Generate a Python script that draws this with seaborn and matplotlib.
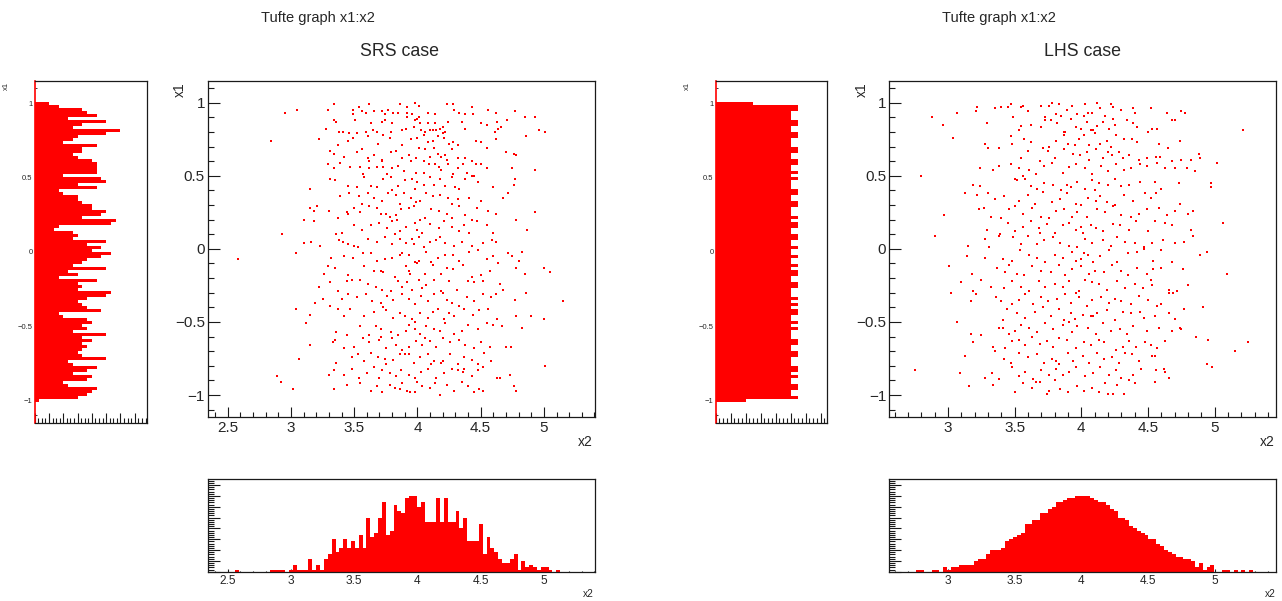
import matplotlib
matplotlib.use("Agg")
import numpy as np
import pandas as pd
import matplotlib.pyplot as plt
import seaborn as sns
from matplotlib.ticker import MultipleLocator, NullFormatter

# ---------------- data ----------------
# scatter points (x2, x1), SRS case
srs_points = [
 (2.95,0.93),(3.05,0.95),(3.29,0.95),(3.34,0.99),(3.49,0.95),(3.49,0.92),(3.54,0.97),(3.56,0.94),(3.59,0.93),(3.62,0.99),
 (3.66,0.94),(3.72,0.94),(3.74,0.92),(3.77,0.95),(3.81,0.93),(3.85,0.93),(3.86,0.99),(3.92,0.97),(3.92,0.93),(3.96,0.92),
 (3.98,1.00),(4.01,0.98),(4.08,0.93),(4.14,0.92),(4.23,0.99),(4.28,0.99),(4.29,0.95),(4.33,0.93),(4.38,0.92),(4.43,0.97),
 (4.44,0.92),(4.56,0.95),(4.62,0.93),(4.77,0.94),(4.85,0.90),(4.93,0.90),(3.34,0.88),(3.92,0.90),(4.01,0.90),
 (3.36,0.87),(3.41,0.80),(3.51,0.88),(3.59,0.80),(3.63,0.86),(3.65,0.81),(3.68,0.80),(3.72,0.87),(3.74,0.88),(3.79,0.80),
 (3.80,0.86),(3.88,0.81),(3.91,0.82),(3.98,0.88),(4.00,0.89),(4.02,0.86),(4.03,0.81),(4.06,0.80),(4.08,0.86),(4.10,0.81),
 (4.12,0.81),(4.14,0.86),(4.15,0.81),(4.18,0.82),(4.20,0.83),(4.22,0.80),(4.35,0.87),(4.38,0.82),(4.50,0.86),(4.55,0.85),
 (4.63,0.87),(4.64,0.82),(4.61,0.80),(4.66,0.83),(4.71,0.88),(4.96,0.81),(5.01,0.80),(3.28,0.82),(3.97,0.83),(4.24,0.87),
 (2.84,0.74),(3.22,0.75),(3.37,0.71),(3.45,0.74),(3.49,0.76),(3.52,0.79),(3.61,0.77),(3.69,0.72),(3.73,0.78),(3.78,0.76),
 (3.88,0.71),(3.95,0.75),(4.00,0.76),(4.05,0.78),(4.08,0.73),(4.12,0.74),(4.16,0.77),(4.21,0.76),(4.25,0.72),(4.28,0.73),
 (4.32,0.71),(4.46,0.74),(4.50,0.73),(4.62,0.75),(4.86,0.77),(4.20,0.79),(3.46,0.79),(3.38,0.80),
 (3.31,0.67),(3.34,0.65),(3.42,0.63),(3.52,0.66),(3.56,0.68),(3.61,0.62),(3.62,0.60),(3.66,0.64),(3.72,0.61),(3.72,0.60),
 (3.79,0.66),(3.83,0.67),(3.88,0.62),(3.93,0.64),(3.99,0.62),(4.01,0.69),(4.06,0.68),(4.10,0.63),(4.13,0.69),(4.16,0.65),
 (4.22,0.64),(4.23,0.61),(4.27,0.68),(4.32,0.62),(4.38,0.62),(4.43,0.60),(4.55,0.69),(4.70,0.66),(4.76,0.65),(4.78,0.64),
 (3.95,0.60),(4.05,0.60),(4.19,0.63),
 (3.29,0.58),(3.34,0.55),(3.39,0.59),(3.47,0.56),(3.55,0.56),(3.62,0.55),(3.68,0.56),(3.73,0.56),(3.80,0.55),(3.85,0.57),
 (3.89,0.53),(3.99,0.52),(4.05,0.52),(4.09,0.58),(4.14,0.58),(4.17,0.56),(4.24,0.58),(4.28,0.51),(4.32,0.55),(4.36,0.58),
 (4.39,0.52),(4.46,0.58),(4.50,0.58),(4.55,0.55),(4.75,0.55),(4.93,0.54),(3.57,0.51),(3.76,0.51),(4.43,0.50),(4.19,0.54),
 (3.31,0.48),(3.35,0.47),(3.45,0.43),(3.52,0.42),(3.58,0.49),(3.63,0.43),(3.68,0.42),(3.73,0.48),(3.79,0.49),(3.85,0.43),
 (3.90,0.47),(3.96,0.48),(4.00,0.46),(4.05,0.44),(4.10,0.49),(4.13,0.44),(4.18,0.48),(4.22,0.43),(4.27,0.49),(4.30,0.42),
 (4.33,0.41),(4.38,0.48),(4.45,0.50),(4.48,0.46),(4.60,0.42),(4.77,0.48),(4.76,0.44),(3.15,0.41),(3.80,0.40),(3.98,0.41),
 (3.39,0.36),(3.46,0.38),(3.54,0.36),(3.61,0.38),(3.66,0.35),(3.72,0.33),(3.77,0.38),(3.83,0.37),(3.89,0.38),(3.95,0.35),
 (3.99,0.32),(4.02,0.33),(4.07,0.38),(4.12,0.36),(4.18,0.37),(4.24,0.35),(4.32,0.34),(4.41,0.35),(4.50,0.33),(4.68,0.35),
 (4.72,0.38),(3.56,0.31),(3.86,0.31),(4.27,0.31),
 (3.15,0.28),(3.18,0.26),(3.21,0.29),(3.30,0.26),(3.37,0.21),(3.45,0.24),(3.50,0.28),(3.55,0.25),(3.62,0.29),(3.68,0.28),
 (3.71,0.24),(3.75,0.24),(3.78,0.22),(3.83,0.23),(3.87,0.27),(3.93,0.28),(3.97,0.29),(4.02,0.20),(4.06,0.21),(4.11,0.27),
 (4.17,0.26),(4.23,0.24),(4.27,0.21),(4.33,0.29),(4.38,0.23),(4.43,0.20),(4.47,0.28),(4.56,0.26),(4.62,0.24),(4.78,0.20),
 (4.93,0.25),(3.10,0.20),(3.84,0.20),(3.44,0.25),
 (3.18,0.19),(3.36,0.10),(3.40,0.11),(3.50,0.16),(3.56,0.13),(3.63,0.16),(3.70,0.18),(3.76,0.14),(3.80,0.19),(3.86,0.12),
 (3.91,0.15),(3.98,0.18),(4.00,0.13),(4.04,0.11),(4.10,0.17),(4.17,0.14),(4.21,0.19),(4.27,0.15),(4.33,0.12),(4.37,0.16),
 (4.41,0.11),(4.47,0.19),(4.55,0.16),(4.60,0.11),(4.87,0.13),(2.93,0.10),(3.82,0.10),
 (3.10,0.04),(3.23,0.02),(3.16,0.05),(3.41,0.05),(3.45,0.03),(3.50,0.02),(3.53,0.01),(3.61,0.07),(3.68,0.05),(3.74,0.08),
 (3.80,0.03),(3.86,0.07),(3.91,0.04),(3.97,0.03),(4.01,0.08),(4.05,0.01),(4.10,0.05),(4.15,0.06),(4.18,0.08),(4.22,0.04),
 (4.29,0.02),(4.35,0.05),(4.43,0.02),(4.52,0.04),(4.59,0.06),(4.62,0.05),(3.38,0.06),(3.96,0.07),
 (2.58,-0.07),(3.04,-0.03),(3.32,-0.06),(3.42,-0.05),(3.49,-0.06),(3.57,-0.03),(3.63,-0.03),(3.68,-0.08),(3.74,-0.07),(3.80,-0.06),
 (3.86,-0.04),(3.93,-0.04),(3.98,-0.09),(4.01,-0.08),(4.07,-0.02),(4.11,-0.09),(4.16,-0.06),(4.22,-0.04),(4.28,-0.04),(4.33,-0.08),
 (4.41,-0.02),(4.48,-0.01),(4.55,-0.07),(4.60,-0.05),(4.72,-0.03),(4.75,-0.05),(4.80,-0.08),(4.83,-0.02),(3.88,-0.03),
 (3.26,-0.17),(3.29,-0.12),(3.35,-0.13),(3.45,-0.18),(3.58,-0.12),(3.66,-0.15),(3.73,-0.16),(3.82,-0.19),(3.91,-0.12),(3.93,-0.15),
 (3.94,-0.17),(4.00,-0.10),(4.06,-0.17),(4.12,-0.11),(4.19,-0.17),(4.23,-0.13),(4.28,-0.14),(4.36,-0.11),(4.43,-0.19),(4.50,-0.18),
 (4.57,-0.15),(4.64,-0.10),(4.78,-0.13),(4.85,-0.17),(5.00,-0.13),(5.05,-0.16),(3.71,-0.15),
 (3.22,-0.26),(3.31,-0.23),(3.37,-0.29),(3.44,-0.22),(3.48,-0.21),(3.55,-0.21),(3.61,-0.24),(3.67,-0.26),(3.72,-0.28),(3.79,-0.29),
 (3.85,-0.22),(3.92,-0.23),(3.96,-0.28),(4.01,-0.21),(4.07,-0.25),(4.13,-0.21),(4.19,-0.29),(4.25,-0.22),(4.31,-0.28),(4.40,-0.22),
 (4.45,-0.23),(4.52,-0.22),(4.65,-0.24),(4.68,-0.28),(4.04,-0.27),(3.88,-0.26),
 (3.19,-0.37),(3.25,-0.34),(3.31,-0.39),(3.40,-0.34),(3.45,-0.31),(3.52,-0.33),(3.59,-0.31),(3.64,-0.36),(3.71,-0.37),(3.76,-0.32),
 (3.81,-0.35),(3.88,-0.31),(3.93,-0.34),(3.98,-0.38),(4.03,-0.32),(4.08,-0.36),(4.13,-0.31),(4.20,-0.30),(4.23,-0.35),(4.27,-0.37),
 (4.33,-0.39),(4.39,-0.33),(4.45,-0.36),(4.52,-0.31),(4.58,-0.33),(4.62,-0.31),(4.77,-0.35),(4.86,-0.30),(5.15,-0.36),
 (3.04,-0.41),(3.15,-0.45),(3.37,-0.41),(3.42,-0.46),(3.47,-0.41),(3.58,-0.46),(3.66,-0.43),(3.73,-0.40),(3.75,-0.42),(3.81,-0.47),
 (3.86,-0.44),(3.90,-0.46),(3.96,-0.48),(4.02,-0.44),(4.08,-0.47),(4.12,-0.43),(4.16,-0.41),(4.21,-0.48),(4.25,-0.44),(4.29,-0.46),
 (4.37,-0.41),(4.44,-0.45),(4.49,-0.42),(4.56,-0.41),(4.63,-0.48),(4.78,-0.46),(4.90,-0.46),(5.00,-0.48),
 (3.12,-0.51),(3.36,-0.57),(3.44,-0.59),(3.55,-0.53),(3.62,-0.59),(3.67,-0.53),(3.71,-0.55),(3.79,-0.57),(3.85,-0.59),(3.91,-0.56),
 (3.93,-0.52),(3.98,-0.55),(4.02,-0.58),(4.07,-0.53),(4.13,-0.55),(4.18,-0.56),(4.22,-0.51),(4.29,-0.58),(4.35,-0.56),(4.40,-0.52),
 (4.48,-0.55),(4.55,-0.51),(4.60,-0.52),(4.67,-0.53),(4.83,-0.54),(3.98,-0.50),
 (3.15,-0.66),(3.33,-0.64),(3.35,-0.62),(3.42,-0.68),(3.50,-0.67),(3.57,-0.61),(3.62,-0.64),(3.70,-0.62),(3.75,-0.68),(3.80,-0.61),
 (3.83,-0.66),(3.88,-0.69),(3.93,-0.67),(3.99,-0.63),(4.04,-0.66),(4.10,-0.63),(4.15,-0.67),(4.20,-0.61),(4.26,-0.64),(4.33,-0.62),
 (4.38,-0.66),(4.45,-0.68),(4.50,-0.64),(4.57,-0.67),(4.70,-0.67),(4.74,-0.67),(3.71,-0.60),(4.06,-0.61),
 (3.06,-0.75),(3.36,-0.78),(3.48,-0.74),(3.53,-0.72),(3.58,-0.77),(3.63,-0.71),(3.69,-0.74),(3.75,-0.79),(3.81,-0.76),(3.86,-0.72),
 (3.90,-0.72),(3.93,-0.72),(3.97,-0.78),(4.02,-0.74),(4.08,-0.72),(4.13,-0.77),(4.19,-0.78),(4.20,-0.77),(4.26,-0.72),(4.32,-0.79),
 (4.37,-0.74),(4.43,-0.76),(4.48,-0.79),(4.53,-0.71),(4.58,-0.77),(3.74,-0.75),(4.11,-0.79),
 (2.89,-0.87),(3.30,-0.86),(3.34,-0.83),(3.42,-0.86),(3.48,-0.82),(3.54,-0.88),(3.60,-0.85),(3.66,-0.81),(3.72,-0.83),(3.78,-0.85),
 (3.83,-0.87),(3.87,-0.83),(3.93,-0.86),(3.98,-0.88),(4.03,-0.84),(4.08,-0.82),(4.15,-0.88),(4.21,-0.85),(4.27,-0.82),(4.32,-0.83),
 (4.37,-0.82),(4.43,-0.87),(4.48,-0.83),(4.52,-0.81),(4.63,-0.88),(4.65,-0.88),(4.73,-0.86),(5.01,-0.80),(3.70,-0.88),(4.36,-0.84),
 (2.92,-0.91),(3.02,-0.96),(3.34,-0.96),(3.44,-0.93),(3.55,-0.92),(3.63,-0.97),(3.72,-0.98),(3.78,-0.93),(3.82,-0.95),(3.86,-0.96),
 (3.88,-0.92),(3.92,-0.97),(3.94,-0.98),(3.98,-0.98),(4.04,-0.94),(4.10,-0.95),(4.14,-0.92),(4.18,-1.00),(4.23,-0.93),(4.29,-0.97),
 (4.35,-0.91),(4.40,-0.94),(4.45,-0.98),(4.49,-0.96),(4.52,-0.97),(4.76,-0.94),(4.78,-0.97),(4.00,-0.91),(3.68,-0.94),
]

# scatter points (x2, x1), LHS case
lhs_points = [
 (2.88,0.90),(3.07,0.93),(3.21,0.94),(3.22,0.97),(3.35,0.96),(3.40,0.97),(3.45,0.97),(3.47,0.99),(3.49,0.90),(3.55,0.97),
 (3.56,0.98),(3.60,0.94),(3.70,0.98),(3.73,0.90),(3.76,0.98),(3.78,1.00),(3.83,0.99),(3.85,0.91),(3.89,0.95),(3.93,0.98),
 (3.97,0.92),(4.02,0.91),(4.03,0.99),(4.08,0.93),(4.12,1.00),(4.14,0.96),(4.18,0.91),(4.22,0.99),(4.24,0.97),(4.24,0.89),
 (4.30,0.95),(4.39,0.96),(4.40,0.93),(4.52,0.96),(4.64,0.93),(4.75,0.94),(4.78,0.93),(3.81,0.92),(4.05,0.93),
 (2.96,0.85),(3.29,0.86),(3.55,0.84),(3.62,0.85),(3.70,0.83),(3.73,0.88),(3.77,0.88),(3.82,0.86),(3.87,0.80),(3.92,0.89),
 (3.96,0.83),(4.00,0.82),(4.04,0.87),(4.09,0.81),(4.12,0.84),(4.16,0.87),(4.21,0.82),(4.25,0.85),(4.34,0.88),(4.39,0.86),
 (4.42,0.83),(4.50,0.80),(4.53,0.82),(4.57,0.82),(4.68,0.88),(4.70,0.88),(5.21,0.81),(3.53,0.81),(3.88,0.80),(4.07,0.81),
 (3.04,0.76),(3.28,0.72),(3.30,0.69),(3.38,0.69),(3.47,0.77),(3.48,0.72),(3.57,0.75),(3.62,0.73),(3.71,0.69),(3.76,0.70),
 (3.81,0.74),(3.87,0.78),(3.90,0.72),(3.95,0.71),(4.02,0.78),(4.06,0.71),(4.10,0.79),(4.14,0.72),(4.19,0.74),(4.26,0.78),
 (4.32,0.75),(4.38,0.75),(4.42,0.73),(4.58,0.72),(4.74,0.74),(4.65,0.69),(3.98,0.75),(4.22,0.70),
 (3.55,0.62),(3.69,0.60),(3.75,0.67),(3.80,0.62),(3.87,0.68),(3.94,0.65),(3.99,0.64),(4.04,0.66),(4.11,0.68),(4.16,0.62),
 (4.20,0.66),(4.23,0.64),(4.31,0.62),(4.36,0.64),(4.43,0.61),(4.49,0.62),(4.56,0.63),(4.59,0.63),(4.68,0.60),(4.75,0.61),
 (4.82,0.61),(4.88,0.65),(4.89,0.62),(3.60,0.67),(4.06,0.61),(4.28,0.66),
 (3.24,0.55),(3.34,0.54),(3.38,0.57),(3.47,0.58),(3.53,0.55),(3.61,0.54),(3.66,0.51),(3.72,0.57),(3.78,0.59),(3.86,0.52),
 (3.91,0.56),(3.96,0.58),(4.03,0.55),(4.08,0.51),(4.15,0.57),(4.20,0.53),(4.26,0.58),(4.32,0.54),(4.37,0.55),(4.44,0.58),
 (4.49,0.57),(4.63,0.55),(4.70,0.55),(4.79,0.55),(4.85,0.53),(5.02,0.59),(4.57,0.59),(3.56,0.50),
 (2.80,0.50),(3.19,0.44),(3.24,0.43),(3.52,0.47),(3.58,0.48),(3.62,0.43),(3.67,0.41),(3.72,0.45),(3.79,0.44),(3.85,0.40),
 (3.89,0.44),(3.92,0.42),(3.97,0.46),(4.03,0.41),(4.08,0.47),(4.13,0.45),(4.20,0.44),(4.25,0.48),(4.30,0.43),(4.36,0.44),
 (4.44,0.46),(4.55,0.46),(4.60,0.41),(4.73,0.45),(4.97,0.45),(4.97,0.42),(3.50,0.48),(4.10,0.40),
 (3.13,0.38),(3.22,0.37),(3.30,0.38),(3.35,0.34),(3.42,0.36),(3.53,0.33),(3.60,0.37),(3.65,0.31),(3.71,0.39),(3.78,0.32),
 (3.84,0.34),(3.89,0.38),(3.96,0.31),(4.05,0.35),(4.11,0.33),(4.14,0.36),(4.19,0.32),(4.25,0.30),(4.32,0.37),(4.39,0.33),
 (4.48,0.38),(4.56,0.38),(4.74,0.31),(4.52,0.35),(4.00,0.30),
 (2.97,0.23),(3.23,0.27),(3.27,0.28),(3.40,0.21),(3.46,0.27),(3.50,0.29),(3.56,0.24),(3.63,0.28),(3.70,0.22),(3.76,0.21),
 (3.81,0.26),(3.87,0.27),(3.93,0.22),(3.97,0.25),(4.04,0.22),(4.12,0.27),(4.18,0.25),(4.24,0.29),(4.30,0.23),(4.37,0.22),
 (4.43,0.24),(4.49,0.27),(4.58,0.28),(4.64,0.23),(4.70,0.26),(4.84,0.26),(4.80,0.24),(3.32,0.22),
 (3.29,0.13),(3.39,0.10),(3.45,0.18),(3.50,0.12),(3.56,0.15),(3.62,0.19),(3.68,0.14),(3.74,0.17),(3.80,0.11),(3.86,0.16),
 (3.91,0.18),(3.96,0.13),(4.01,0.11),(4.07,0.16),(4.11,0.14),(4.16,0.12),(4.24,0.17),(4.29,0.16),(4.36,0.13),(4.41,0.19),
 (4.50,0.12),(4.55,0.19),(4.63,0.18),(4.68,0.16),(4.82,0.13),(5.06,0.18),(4.00,0.15),(3.69,0.11),
 (2.90,0.09),(3.15,0.02),(3.31,0.01),(3.38,0.09),(3.49,0.08),(3.55,0.03),(3.60,0.09),(3.67,0.03),(3.72,0.06),(3.79,0.08),
 (3.84,0.04),(3.91,0.02),(3.97,0.01),(4.03,0.07),(4.08,0.04),(4.16,0.06),(4.22,0.02),(4.27,0.08),(4.33,0.05),(4.40,0.04),
 (4.47,0.01),(4.53,0.04),(4.61,0.06),(4.77,0.05),(4.84,0.09),(4.70,0.04),(3.28,0.07),
 (3.01,-0.12),(3.14,-0.05),(3.28,-0.06),(3.41,-0.07),(3.48,-0.08),(3.54,-0.01),(3.61,-0.04),(3.67,-0.06),(3.73,-0.09),(3.80,-0.04),
 (3.86,-0.06),(3.93,-0.02),(4.00,-0.07),(4.02,-0.03),(4.05,-0.04),(4.09,-0.09),(4.14,-0.05),(4.21,-0.01),(4.27,-0.09),(4.35,-0.03),
 (4.42,-0.02),(4.47,0.00),(4.54,-0.08),(4.60,-0.01),(4.68,-0.09),(4.89,-0.04),(4.94,-0.02),(3.96,-0.08),
 (3.18,-0.17),(3.37,-0.13),(3.43,-0.16),(3.52,-0.17),(3.57,-0.18),(3.63,-0.12),(3.70,-0.15),(3.77,-0.16),(3.83,-0.11),(3.88,-0.18),
 (3.93,-0.14),(4.00,-0.12),(4.06,-0.17),(4.10,-0.15),(4.17,-0.16),(4.23,-0.11),(4.30,-0.15),(4.35,-0.18),(4.42,-0.13),(4.49,-0.17),
 (4.54,-0.14),(4.60,-0.13),(4.76,-0.14),(5.09,-0.17),(3.46,-0.11),
 (3.02,-0.30),(3.10,-0.23),(3.19,-0.29),(3.25,-0.21),(3.32,-0.26),(3.42,-0.27),(3.48,-0.22),(3.55,-0.26),(3.61,-0.29),(3.68,-0.22),
 (3.73,-0.26),(3.80,-0.24),(3.86,-0.26),(3.91,-0.22),(3.98,-0.29),(4.03,-0.21),(4.08,-0.23),(4.13,-0.24),(4.19,-0.28),(4.27,-0.22),
 (4.33,-0.27),(4.40,-0.24),(4.46,-0.27),(4.53,-0.25),(4.66,-0.28),(4.72,-0.29),(4.80,-0.25),(4.52,-0.21),
 (3.17,-0.36),(3.21,-0.31),(3.36,-0.33),(3.40,-0.36),(3.48,-0.38),(3.53,-0.35),(3.58,-0.31),(3.64,-0.38),(3.70,-0.33),(3.75,-0.36),
 (3.82,-0.34),(3.88,-0.31),(3.92,-0.37),(3.98,-0.33),(4.04,-0.39),(4.08,-0.35),(4.15,-0.33),(4.21,-0.37),(4.25,-0.34),(4.30,-0.36),
 (4.37,-0.38),(4.43,-0.32),(4.50,-0.35),(4.57,-0.39),(4.66,-0.30),(4.69,-0.30),(4.60,-0.38),(3.96,-0.30),
 (3.07,-0.50),(3.41,-0.49),(3.44,-0.41),(3.52,-0.44),(3.58,-0.47),(3.65,-0.43),(3.71,-0.40),(3.77,-0.46),(3.83,-0.41),(3.87,-0.49),
 (3.92,-0.44),(3.95,-0.48),(4.01,-0.45),(4.07,-0.46),(4.12,-0.44),(4.19,-0.42),(4.25,-0.49),(4.31,-0.43),(4.37,-0.44),(4.44,-0.43),
 (4.47,-0.47),(4.55,-0.46),(4.70,-0.48),(4.77,-0.41),(4.91,-0.40),(4.66,-0.44),(4.09,-0.46),
 (3.17,-0.58),(3.25,-0.59),(3.38,-0.54),(3.41,-0.54),(3.46,-0.58),(3.50,-0.56),(3.55,-0.52),(3.61,-0.54),(3.67,-0.57),(3.73,-0.51),
 (3.79,-0.55),(3.86,-0.52),(3.93,-0.57),(3.97,-0.53),(4.05,-0.54),(4.11,-0.58),(4.16,-0.51),(4.22,-0.56),(4.29,-0.55),(4.34,-0.58),
 (4.39,-0.53),(4.49,-0.56),(4.58,-0.54),(4.68,-0.56),(4.74,-0.54),(4.75,-0.55),(3.91,-0.50),
 (3.19,-0.64),(3.34,-0.67),(3.43,-0.68),(3.48,-0.63),(3.53,-0.62),(3.58,-0.66),(3.63,-0.60),(3.69,-0.65),(3.74,-0.63),(3.79,-0.67),
 (3.83,-0.61),(3.89,-0.62),(3.96,-0.68),(4.02,-0.64),(4.07,-0.66),(4.13,-0.62),(4.17,-0.64),(4.26,-0.69),(4.31,-0.67),(4.36,-0.63),
 (4.41,-0.67),(4.48,-0.64),(4.52,-0.66),(4.57,-0.68),(4.63,-0.63),(4.86,-0.60),(4.95,-0.62),(5.25,-0.64),(5.15,-0.70),
 (3.13,-0.73),(3.35,-0.70),(3.42,-0.75),(3.47,-0.78),(3.53,-0.71),(3.60,-0.74),(3.67,-0.72),(3.72,-0.78),(3.78,-0.75),(3.83,-0.79),
 (3.90,-0.71),(3.94,-0.77),(4.01,-0.73),(4.06,-0.78),(4.12,-0.71),(4.17,-0.75),(4.23,-0.74),(4.28,-0.78),(4.33,-0.71),(4.38,-0.72),
 (4.43,-0.77),(4.53,-0.73),(4.55,-0.73),(4.94,-0.79),(3.81,-0.77),
 (2.75,-0.83),(3.09,-0.85),(3.28,-0.88),(3.33,-0.85),(3.38,-0.89),(3.48,-0.81),(3.53,-0.87),(3.58,-0.84),(3.64,-0.89),(3.70,-0.83),
 (3.76,-0.86),(3.81,-0.82),(3.86,-0.86),(3.91,-0.84),(3.96,-0.81),(4.03,-0.87),(4.09,-0.85),(4.14,-0.81),(4.21,-0.86),(4.26,-0.83),
 (4.30,-0.88),(4.39,-0.86),(4.45,-0.82),(4.56,-0.83),(4.62,-0.82),(4.98,-0.81),(4.63,-0.84),
 (3.16,-0.94),(3.34,-0.93),(3.50,-0.98),(3.56,-0.92),(3.63,-0.95),(3.69,-0.91),(3.74,-0.99),(3.76,-0.97),(3.80,-0.90),(3.84,-0.96),
 (3.90,-0.98),(3.97,-0.94),(4.02,-0.97),(4.08,-0.95),(4.13,-0.98),(4.18,-0.92),(4.24,-0.99),(4.27,-0.93),(4.32,-0.99),(4.36,-0.90),
 (4.40,-0.92),(4.55,-0.91),(4.66,-0.88),(3.66,-0.91),(4.20,-0.99),
]

# histogram of x2, 100 bins across the axis range (counts, low x2 -> high x2)
srs_x2_counts = [0,0,0,0,0,0,0,1,0,0,
                 0,0,0,0,0,0,1,1,1,1,
                 0,1,3,1,1,1,6,1,3,1,
                 6,8,15,9,11,15,11,14,11,17,
                 11,25,16,18,25,32,17,19,31,28,
                 27,34,35,35,30,32,23,23,23,34,
                 23,34,23,23,28,20,25,14,14,14,
                 22,8,16,11,9,6,4,4,6,8,
                 1,5,2,3,2,1,2,2,1,0,
                 1,0,0,0,0,0,0,0,0,0]
lhs_x2_counts = [0,0,0,0,0,0,0,1,1,0,
                 0,1,1,0,2,1,2,2,3,3,
                 3,3,5,6,6,8,10,10,10,11,
                 14,15,16,17,18,22,22,24,24,27,
                 27,29,30,32,32,33,34,34,35,35,
                 35,35,34,33,32,32,31,29,28,25,
                 25,24,21,20,19,18,17,15,15,13,
                 12,10,9,8,7,7,6,6,5,2,
                 4,1,2,3,0,0,1,1,0,1,
                 0,1,0,1,0,0,0,0,0,0]

# histogram of x1, 100 bins, listed from x1 = +1 (top) down to x1 = -1 (bottom)
srs_x1_counts_top_down = [3,5,10,11,13,7,15,10,8,18,
                          15,9,8,6,13,10,10,8,9,12,
                          13,13,13,13,6,14,15,9,13,5,
                          6,9,9,10,12,12,15,14,10,17,
                          16,5,4,8,9,8,15,11,14,12,
                          16,14,11,10,8,15,7,9,5,13,
                          9,10,9,16,15,11,9,10,11,14,
                          5,6,11,12,10,11,8,15,10,12,
                          10,11,10,9,10,15,7,8,13,11,
                          8,12,11,6,7,13,12,11,9,1]
lhs_x1_counts_top_down = [5,11,11,10,10,10,11,11,10,10,
                          11,11,10,10,10,11,11,10,10,11,
                          11,10,10,11,10,11,10,10,10,11,
                          11,10,10,11,11,10,10,10,11,10,
                          11,11,10,10,11,11,10,10,11,10,
                          10,11,10,10,11,10,11,11,10,10,
                          11,11,10,10,10,11,10,11,10,11,
                          11,10,10,11,10,11,10,10,10,11,
                          11,10,10,11,11,10,10,10,11,11,
                          10,11,10,10,11,11,10,10,11,4]

panel_titles = ["SRS case", "LHS case"]
suptitle_text = "Tufte graph x1:x2"
x2_ranges = [(2.342, 5.404), (2.5575, 5.4625)]
x1_hist_range = (-1.01, 1.01)

# ---------------- figure ----------------
sns.set_theme(style="white")
plt.rcParams["font.family"] = ["Liberation Sans", "DejaVu Sans"]
plt.rcParams["axes.unicode_minus"] = True

W, H = 1282, 601
fig = plt.figure(figsize=(W / 100, H / 100), dpi=100)
fig.patch.set_facecolor("white")


def axes_px(l, t, r, b):
    return fig.add_axes([l / W, 1 - b / H, (r - l) / W, (b - t) / H])


def pt(px):
    return px * 0.72


def ftext(x, y, s, **kw):
    fig.text(x / W, 1 - y / H, s, **kw)


def style_frame(ax):
    for sp in ax.spines.values():
        sp.set_visible(True)
        sp.set_color("#1a1a1a")
        sp.set_linewidth(0.9)
    ax.set_facecolor("white")
    ax.grid(False)


def fmt_num(v, _):
    return f"{v:g}".replace("-", "\u2212")


RED = "#ff0000"

panels = [
    dict(points=srs_points, x2c=srs_x2_counts, x1c=srs_x1_counts_top_down,
         xr=x2_ranges[0], title=panel_titles[0],
         side=(34.7, 146.7), main=(207.7, 595.0), sup_x=318, title_x=400,
         side_max=23.5, side_major=3.0),
    dict(points=lhs_points, x2c=lhs_x2_counts, x1c=lhs_x1_counts_top_down,
         xr=x2_ranges[1], title=panel_titles[1],
         side=(715.7, 827.3), main=(889.0, 1276.3), sup_x=999, title_x=1082,
         side_max=14.9, side_major=2.0),
]

for p in panels:
    xlo, xhi = p["xr"]
    mx0, mx1 = p["main"]
    hx0, hx1 = p["side"]

    # ---- scatter ----
    df = pd.DataFrame(p["points"], columns=["x2", "x1"])
    ax = axes_px(mx0, 81, mx1, 416.7)
    sns.scatterplot(data=df, x="x2", y="x1", ax=ax, color=RED, s=2.2,
                    marker="s", linewidth=0, legend=False)
    ax.set_xlim(xlo, xhi)
    ax.set_ylim(-1.148, 1.148)
    ax.set_xlabel("")
    ax.set_ylabel("")
    style_frame(ax)
    ax.xaxis.set_major_locator(MultipleLocator(0.5))
    ax.xaxis.set_minor_locator(MultipleLocator(0.1))
    ax.yaxis.set_major_locator(MultipleLocator(0.5))
    ax.yaxis.set_minor_locator(MultipleLocator(0.1))
    ax.xaxis.set_major_formatter(matplotlib.ticker.FuncFormatter(fmt_num))
    ax.yaxis.set_major_formatter(matplotlib.ticker.FuncFormatter(fmt_num))
    ax.tick_params(axis="x", which="major", direction="in", length=pt(10), width=0.8,
                   bottom=True, top=False, labelsize=11, pad=3, color="#1a1a1a")
    ax.tick_params(axis="x", which="minor", direction="in", length=pt(5), width=0.8,
                   bottom=True, top=False, color="#1a1a1a")
    ax.tick_params(axis="y", which="major", direction="in", length=pt(11.6), width=0.8,
                   left=True, right=False, labelsize=11, pad=2, color="#1a1a1a")
    ax.tick_params(axis="y", which="minor", direction="in", length=pt(5.8), width=0.8,
                   left=True, right=False, color="#1a1a1a")
    ftext(mx1 - 2, 442, "x2", ha="right", va="center", fontsize=10)
    ftext(mx0 - 27.5, 82, "x1", ha="center", va="top", rotation=90, fontsize=10)

    # ---- bottom histogram of x2 ----
    edges = np.linspace(xlo, xhi, len(p["x2c"]) + 1)
    dfb = pd.DataFrame({"x2": 0.5 * (edges[:-1] + edges[1:]),
                        "count": np.asarray(p["x2c"], dtype=float)})
    axb = axes_px(mx0, 479, mx1, 571.7)
    sns.histplot(data=dfb, x="x2", weights="count", bins=list(edges), element="step",
                 fill=True, color=RED, alpha=1, linewidth=0, ax=axb)
    axb.set_xlim(xlo, xhi)
    axb.set_ylim(0, 42.8)
    axb.set_xlabel("")
    axb.set_ylabel("")
    style_frame(axb)
    axb.xaxis.set_major_locator(MultipleLocator(0.5))
    axb.xaxis.set_minor_locator(MultipleLocator(0.1))
    axb.xaxis.set_major_formatter(matplotlib.ticker.FuncFormatter(fmt_num))
    axb.yaxis.set_major_locator(MultipleLocator(5))
    axb.yaxis.set_minor_locator(MultipleLocator(1))
    axb.yaxis.set_major_formatter(NullFormatter())
    axb.tick_params(axis="x", which="major", direction="in", length=pt(2.8), width=0.8,
                    bottom=True, top=False, labelsize=8.6, pad=2.5, color="#1a1a1a")
    axb.tick_params(axis="x", which="minor", direction="in", length=pt(1.4), width=0.8,
                    bottom=True, top=False, color="#1a1a1a")
    axb.tick_params(axis="y", which="major", direction="in", length=pt(11.6), width=0.8,
                    left=True, right=False, labelleft=False, color="#1a1a1a")
    axb.tick_params(axis="y", which="minor", direction="in", length=pt(5.8), width=0.8,
                    left=True, right=False, color="#1a1a1a")
    ftext(mx1 - 1, 594, "x2", ha="right", va="center", fontsize=7.3)

    # ---- side histogram of x1 ----
    e1 = np.linspace(x1_hist_range[0], x1_hist_range[1], len(p["x1c"]) + 1)
    dfh = pd.DataFrame({"x1": 0.5 * (e1[:-1] + e1[1:]),
                        "count": np.asarray(p["x1c"][::-1], dtype=float)})
    axh = axes_px(hx0, 80.7, hx1, 422.7)
    sns.histplot(data=dfh, y="x1", weights="count", bins=list(e1), element="step",
                 fill=True, color=RED, alpha=1, linewidth=0, ax=axh)
    axh.set_ylim(-1.15, 1.15)
    axh.set_xlim(0, p["side_max"])
    axh.set_xlabel("")
    axh.set_ylabel("")
    style_frame(axh)
    axh.spines["left"].set_color(RED)
    axh.spines["left"].set_linewidth(1.2)
    axh.yaxis.set_major_locator(MultipleLocator(0.5))
    axh.yaxis.set_minor_locator(MultipleLocator(0.1))
    axh.yaxis.set_major_formatter(matplotlib.ticker.FuncFormatter(fmt_num))
    axh.xaxis.set_major_locator(MultipleLocator(p["side_major"]))
    axh.xaxis.set_minor_locator(MultipleLocator(p["side_major"] / 4))
    axh.xaxis.set_major_formatter(NullFormatter())
    axh.tick_params(axis="y", which="major", direction="in", length=pt(3.4), width=0.6,
                    left=True, right=False, labelsize=5.5, pad=1.5, color="#1a1a1a")
    axh.tick_params(axis="y", which="minor", direction="in", length=pt(1.7), width=0.6,
                    left=True, right=False, color="#1a1a1a")
    axh.tick_params(axis="x", which="major", direction="in", length=pt(10), width=0.8,
                    bottom=True, top=False, labelbottom=False, color="#1a1a1a")
    axh.tick_params(axis="x", which="minor", direction="in", length=pt(5), width=0.8,
                    bottom=True, top=False, color="#1a1a1a")
    ftext(hx0 - 28.5, 82, "x1", ha="center", va="top", rotation=90, fontsize=5.5)

    # ---- titles ----
    ftext(p["sup_x"], 18, suptitle_text, ha="center", va="center", fontsize=10.5)
    ftext(p["title_x"], 52, p["title"], ha="center", va="center", fontsize=12.8)

fig.savefig("out.png", dpi=100, facecolor="white")
